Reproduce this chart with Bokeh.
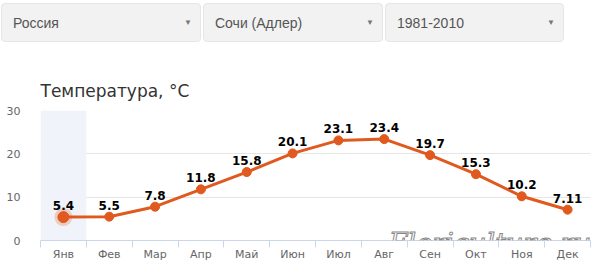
from bokeh.plotting import figure
from bokeh.models import (ColumnDataSource, FixedTicker, BoxAnnotation, Label, Div)
from bokeh.layouts import column
from bokeh.core.properties import value
from bokeh.embed import file_html
from bokeh.resources import INLINE

# ---- data ----
months = ["Янв", "Фев", "Мар", "Апр", "Май", "Июн", "Июл", "Авг", "Сен", "Окт", "Ноя", "Дек"]
temps = [5.4, 5.5, 7.8, 11.8, 15.8, 20.1, 23.1, 23.4, 19.7, 15.3, 10.2, 7.11]
selects = ["Россия", "Сочи (Адлер)", "1981-2010"]
y_ticks = [0, 10, 20, 30]
title_text = "Температура, °C"
watermark = "Floriculture.ru"

LINE = "#e0591f"

# ---- header with dropdown-like boxes ----
boxes = [(1, 198), (203, 178), (385, 177)]
html = '<div style="position:relative;width:592px;height:45px;font-family:Arial,\'Liberation Sans\',sans-serif;">'
for (left, w), s in zip(boxes, selects):
    html += (
        f'<div style="position:absolute;left:{left}px;top:3px;width:{w}px;height:37px;'
        'background:#f2f2f2;border:1px solid #e6e6e6;border-radius:4px;box-sizing:content-box;">'
        f'<span style="position:absolute;left:11px;top:11px;font-size:14px;line-height:16px;color:#555;">{s}</span>'
        '<span style="position:absolute;right:8px;top:14px;font-size:8px;line-height:10px;color:#777;">&#9660;</span>'
        '</div>'
    )
html += '</div>'
header = Div(text=html, width=592, height=45, margin=0)

# ---- chart ----
xs = [i + 0.5 for i in range(len(months))]
src = ColumnDataSource(dict(x=xs, y=temps, lab=[str(v) for v in temps]))

p = figure(width=592, height=218, output_backend="svg", toolbar_location=None,
           x_range=(0, len(months)), y_range=(0, 30),
           min_border_left=40, min_border_right=2, min_border_top=65, min_border_bottom=23,
           title=title_text)
p.outline_line_color = None
p.background_fill_color = "white"
p.border_fill_color = "white"

p.title.text_font = "DejaVu Sans"
p.title.text_font_size = "17px"
p.title.text_font_style = "normal"
p.title.text_color = "#333333"
p.title.align = "left"
p.title.standoff = 19

# highlighted (hovered) category band
p.add_layout(BoxAnnotation(left=0, right=1, fill_color="#f0f3fa", fill_alpha=1.0,
                           line_color=None, level="underlay"))

# axes
xa = p.xaxis[0]
xa.ticker = FixedTicker(ticks=xs, minor_ticks=list(range(len(months) + 1)))
xa.major_label_overrides = {x: m for x, m in zip(xs, months)}
xa.major_tick_line_color = None
xa.major_tick_out = 0
xa.major_tick_in = 0
xa.minor_tick_line_color = "#ccd6eb"
xa.minor_tick_out = 7
xa.minor_tick_in = 0
xa.axis_line_color = "#ccd6eb"
xa.major_label_text_color = "#666666"
xa.major_label_text_font = "DejaVu Sans"
xa.major_label_text_font_size = "11px"
xa.major_label_standoff = 0

ya = p.yaxis[0]
ya.ticker = FixedTicker(ticks=y_ticks)
ya.axis_line_color = None
ya.major_tick_line_color = None
ya.minor_tick_line_color = None
ya.major_label_text_color = "#666666"
ya.major_label_text_font = "DejaVu Sans"
ya.major_label_text_font_size = "11px"
ya.major_label_standoff = 14

p.xgrid.grid_line_color = None
p.ygrid.grid_line_color = "#e6e6e6"
p.ygrid.ticker = FixedTicker(ticks=y_ticks)

# series
p.line("x", "y", source=src, line_color=LINE, line_width=3)
p.scatter("x", "y", source=src, size=9, fill_color=LINE, line_color=LINE)

# hover halo on first point
p.scatter([xs[0]], [temps[0]], size=18, fill_color=LINE, fill_alpha=0.25, line_color=None)
p.scatter([xs[0]], [temps[0]], size=11, fill_color=LINE, line_color=LINE)

# data labels
p.text("x", "y", text="lab", source=src, text_align="center", text_baseline="bottom",
       y_offset=-7, text_font=value("DejaVu Sans"), text_font_style="bold",
       text_font_size="12px", text_color="black")

# watermark
p.add_layout(Label(x=7.6, y=-4.3, text=watermark, text_font="DejaVu Serif",
                   text_font_style="italic", text_font_size="27px",
                   text_color="white", text_outline_color="#888888"))

layout = column(header, p, spacing=0)
open("out.html", "w").write(file_html(layout, INLINE))
